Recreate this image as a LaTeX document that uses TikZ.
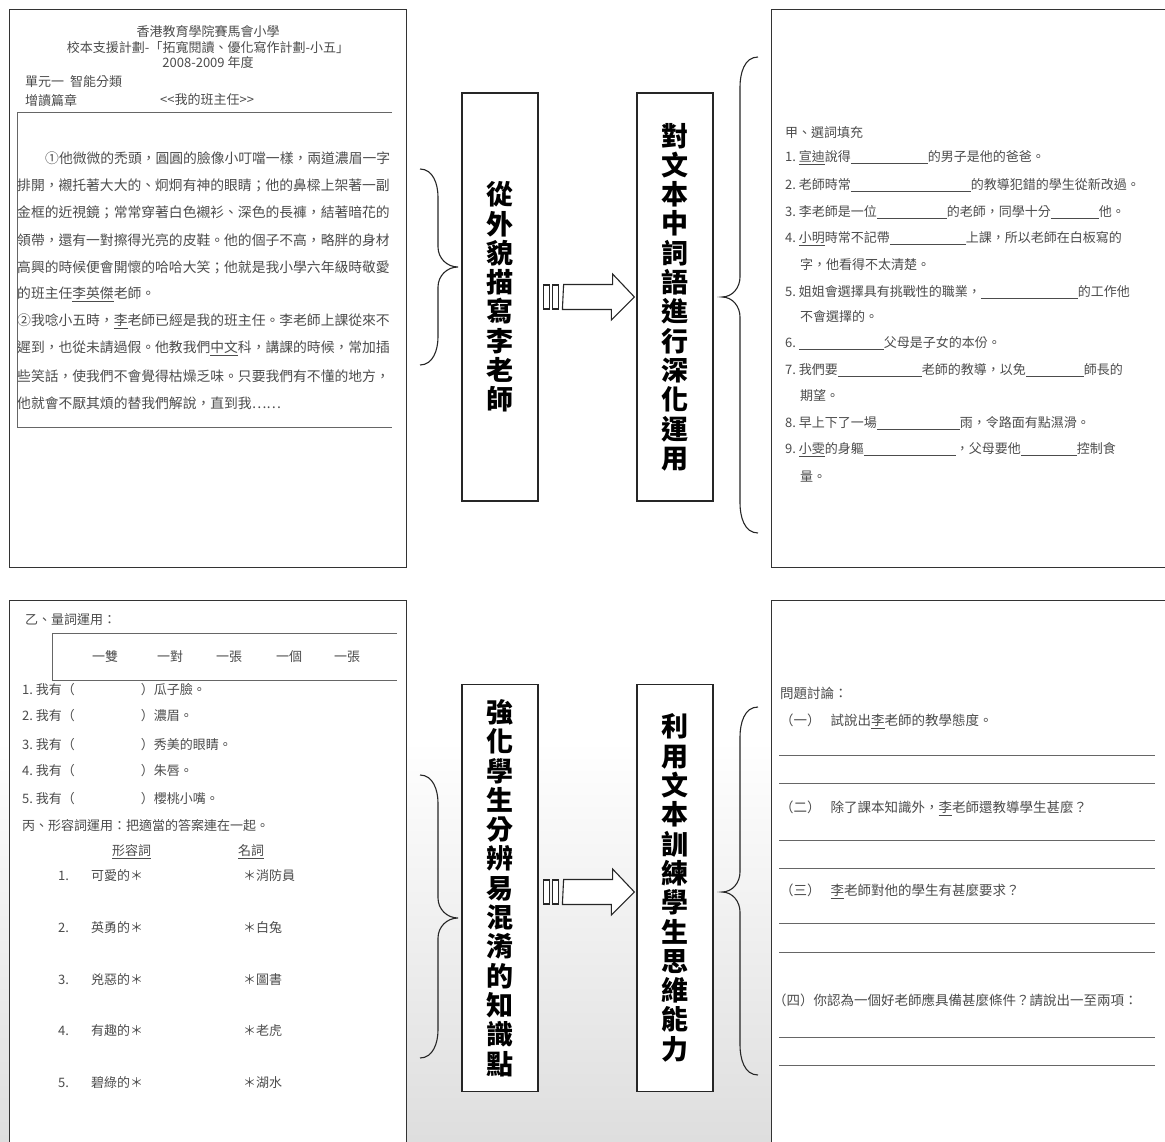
\documentclass[tikz,border=0pt]{standalone}
\usepackage{fontspec}
\newfontfamily\cjk{Noto Sans CJK TC}
\usetikzlibrary{calc}
\newcommand\blankfill[1]{\rule[-2pt]{#1pt}{0.6pt}}

\begin{document}
\begin{tikzpicture}[x=1pt,y=-1pt]
\tikzset{ >=latex,
  sheet/.style={draw=black!80, line width=1pt, fill=white},
  txt/.style={anchor=west, inner sep=0pt, text=black!70, font=\cjk\fontsize{13}{14}\selectfont},
  bigbox/.style={draw=black!85, line width=1.2pt, fill=white, minimum width=76pt, align=center, inner sep=0pt,
    font=\cjk\bfseries\fontsize{27}{29.3}\selectfont},
  curly/.style={draw=black!85, line width=1.1pt},
  fatarrow/.style={draw=black!85, line width=1.1pt, fill=white, line join=miter},
  rulegray/.style={draw=black!60, line width=0.7pt},
}
\useasboundingbox (0,0) rectangle (1165,1142);
%\draw [lightgray, dashed] (0,0) grid[step=50] (1165,1142);

% faint photo behind the lower half
\shade[top color=white, bottom color=black!13] (0,740) rectangle (1165,1142);

% the four worksheet pages
\draw[sheet] (9,10) rectangle (406,567);
\draw[sheet] (771,10) rectangle (1170,567);
\draw[sheet] (9,600) rectangle (406,1150);
\draw[sheet] (771,600) rectangle (1170,1150);

%% page 1: the text
\node[txt, anchor=center] (pAt1) at (208,32) {香港教育學院賽馬會小學};
\node[txt, anchor=center] (pAt2) at (208,48) {校本支援計劃-「拓寬閱讀、優化寫作計劃-小五」};
\node[txt, anchor=center] (pAt3) at (208,63) {2008-2009 年度};
\node[txt] (pAu) at (25,82) {單元一\hspace{6pt}智能分類};
\node[txt] (pAr) at (25,100) {增讀篇章};
\node[txt] (pAs) at (160,100) {<<我的班主任>>};
\draw[rulegray] (392,112) -- (17,112) -- (17,427) -- (392,427);
\foreach \x/\y/\t [count=\i] in {
  45/158/{①他微微的禿頭，圓圓的臉像小叮噹一樣，兩道濃眉一字},
  17/185/{排開，襯托著大大的、炯炯有神的眼睛；他的鼻樑上架著一副},
  17/212/{金框的近視鏡；常常穿著白色襯衫、深色的長褲，結著暗花的},
  17/240/{領帶，還有一對擦得光亮的皮鞋。他的個子不高，略胖的身材},
  17/267/{高興的時候便會開懷的哈哈大笑；他就是我小學六年級時敬愛},
  17/294/{的班主任\underline{李英傑}老師。},
  17/321/{②我唸小五時，\underline{李}老師已經是我的班主任。李老師上課從來不},
  17/348/{遲到，也從未請過假。他教我們\underline{中文}科，講課的時候，常加插},
  17/376/{些笑話，使我們不會覺得枯燥乏味。只要我們有不懂的地方，},
  17/403/{他就會不厭其煩的替我們解說，直到我……}}
  \node[txt, font=\cjk\fontsize{13.8}{14}\selectfont] (pAl\i) at (\x,\y) {\t};

%% page 2: the text
\foreach \x/\y/\t [count=\i] in {
  785/133/{甲、選詞填充},
  785/158/{1.~\underline{宣迪}說得\blankfill{77}的男子是他的爸爸。},
  785/185/{2.~老師時常\blankfill{120}的教導犯錯的學生從新改過。},
  785/212/{3.~李老師是一位\blankfill{70}的老師，同學十分\blankfill{48}他。},
  785/239/{4.~\underline{小明}時常不記帶\blankfill{76}上課，所以老師在白板寫的},
  800/265/{字，他看得不太清楚。},
  785/292/{5.~姐姐會選擇具有挑戰性的職業，\blankfill{97}的工作他},
  800/317/{不會選擇的。},
  785/343/{6.~\blankfill{85}父母是子女的本份。},
  785/370/{7.~我們要\blankfill{84}老師的教導，以免\blankfill{58}師長的},
  800/396/{期望。},
  785/423/{8.~早上下了一場\blankfill{83}雨，令路面有點濕滑。},
  785/450/{9.~\underline{小雯}的身軀\blankfill{92}，父母要他\blankfill{56}控制食},
  800/477/{量。}}
  \node[txt] (pBl\i) at (\x,\y) {\t};

%% page 3: the text
\node[txt] (pCt) at (25,620) {乙、量詞運用：};
\draw[rulegray] (397,633) -- (52,633) -- (52,680) -- (397,680);
\foreach \x/\t [count=\i] in {105/一雙, 170/一對, 229/一張, 289/一個, 347/一張}
  \node[txt, anchor=center] (pCw\i) at (\x,657) {\t};
\foreach \y/\t [count=\i] in {
  690/{1.~我有（\hspace{66pt}）瓜子臉。},
  716/{2.~我有（\hspace{66pt}）濃眉。},
  745/{3.~我有（\hspace{66pt}）秀美的眼睛。},
  771/{4.~我有（\hspace{66pt}）朱唇。},
  799/{5.~我有（\hspace{66pt}）櫻桃小嘴。},
  826/{丙、形容詞運用：把適當的答案連在一起。}}
  \node[txt] (pCl\i) at (22,\y) {\t};
\node[txt] (pCh1) at (112,852) {\underline{形容詞}};
\node[txt] (pCh2) at (238,852) {\underline{名詞}};
\foreach \y/\a/\b [count=\i] in {876/可愛的/消防員, 928/英勇的/白兔, 980/兇惡的/圖書, 1031/有趣的/老虎, 1083/碧綠的/湖水}
  \node[txt] (pCr\i) at (58,\y) {\i.\hspace{22pt}\a＊\hspace{100pt}＊\b};

%% page 4: the text
\node[txt, font=\cjk\fontsize{13.5}{14}\selectfont] (pDt) at (780,693) {問題討論：};
\foreach \x/\y/\t [count=\i] in {
  780/721/{（一）\hspace{10pt}試說出\underline{李}老師的教學態度。},
  780/808/{（二）\hspace{10pt}除了課本知識外，\underline{李}老師還教導學生甚麼？},
  780/891/{（三）\hspace{10pt}\underline{李}老師對他的學生有甚麼要求？},
  773/1000/{（四）你認為一個好老師應具備甚麼條件？請說出一至兩項：}}
  \node[txt, font=\cjk\fontsize{13.5}{14}\selectfont] (pDq\i) at (\x,\y) {\t};
\foreach \y in {755,783,840,868,923,952,1037,1065}
  \draw[rulegray] (779,\y) -- (1155,\y);

%% the four boxes
\node[bigbox, minimum height=408pt] (A) at (500,297) {從\\外\\貌\\描\\寫\\李\\老\\師};
\node[bigbox, minimum height=408pt] (B) at (675,297) {對\\文\\本\\中\\詞\\語\\進\\行\\深\\化\\運\\用};
\node[bigbox, minimum height=407pt] (C) at (500,888) {強\\化\\學\\生\\分\\辨\\易\\混\\淆\\的\\知\\識\\點};
\node[bigbox, minimum height=407pt] (D) at (675,888) {利\\用\\文\\本\\訓\\練\\學\\生\\思\\維\\能\\力};

%% braces
\draw[curly] (420,169) to[out=0,in=90] (438,197) -- (438,247) to[out=-90,in=180] (458,267)
  to[out=180,in=90] (438,287) -- (438,337) to[out=-90,in=0] (420,365);
\draw[curly] (758,57) to[out=180,in=90] (740,87) -- (740,277) to[out=-90,in=0] (722,297)
  to[out=0,in=90] (740,317) -- (740,503) to[out=-90,in=180] (758,533);
\draw[curly] (420,775) to[out=0,in=90] (438,803) -- (438,898) to[out=-90,in=180] (458,918)
  to[out=180,in=90] (438,938) -- (438,1030) to[out=-90,in=0] (420,1058);
\draw[curly] (758,707) to[out=180,in=90] (740,737) -- (740,872) to[out=-90,in=0] (722,892)
  to[out=0,in=90] (740,912) -- (740,1045) to[out=-90,in=180] (758,1075);

%% arrows from box to box
\draw[fatarrow] ($(A.east)+(5,-12)$) rectangle ++(6,24);
\draw[fatarrow] ($(A.east)+(14,-12)$) rectangle ++(6,24);
\draw[fatarrow] ($(A.east)+(25,-12.5)$) -- ++(49,0) -- ++(0,-10.5) -- ($(B.west)+(-2,0)$)
  -- ++(-23,23) -- ++(0,-10.5) -- ++(-49,0) -- cycle;

\draw[fatarrow] ($(C.east)+(5,-8)$) rectangle ++(6,24);
\draw[fatarrow] ($(C.east)+(14,-8)$) rectangle ++(6,24);
\draw[fatarrow] ($(C.east)+(25,-8.5)$) -- ++(49,0) -- ++(0,-10.5) -- ($(D.west)+(-2,4)$)
  -- ++(-23,23) -- ++(0,-10.5) -- ++(-49,0) -- cycle;

\end{tikzpicture}
\end{document}
